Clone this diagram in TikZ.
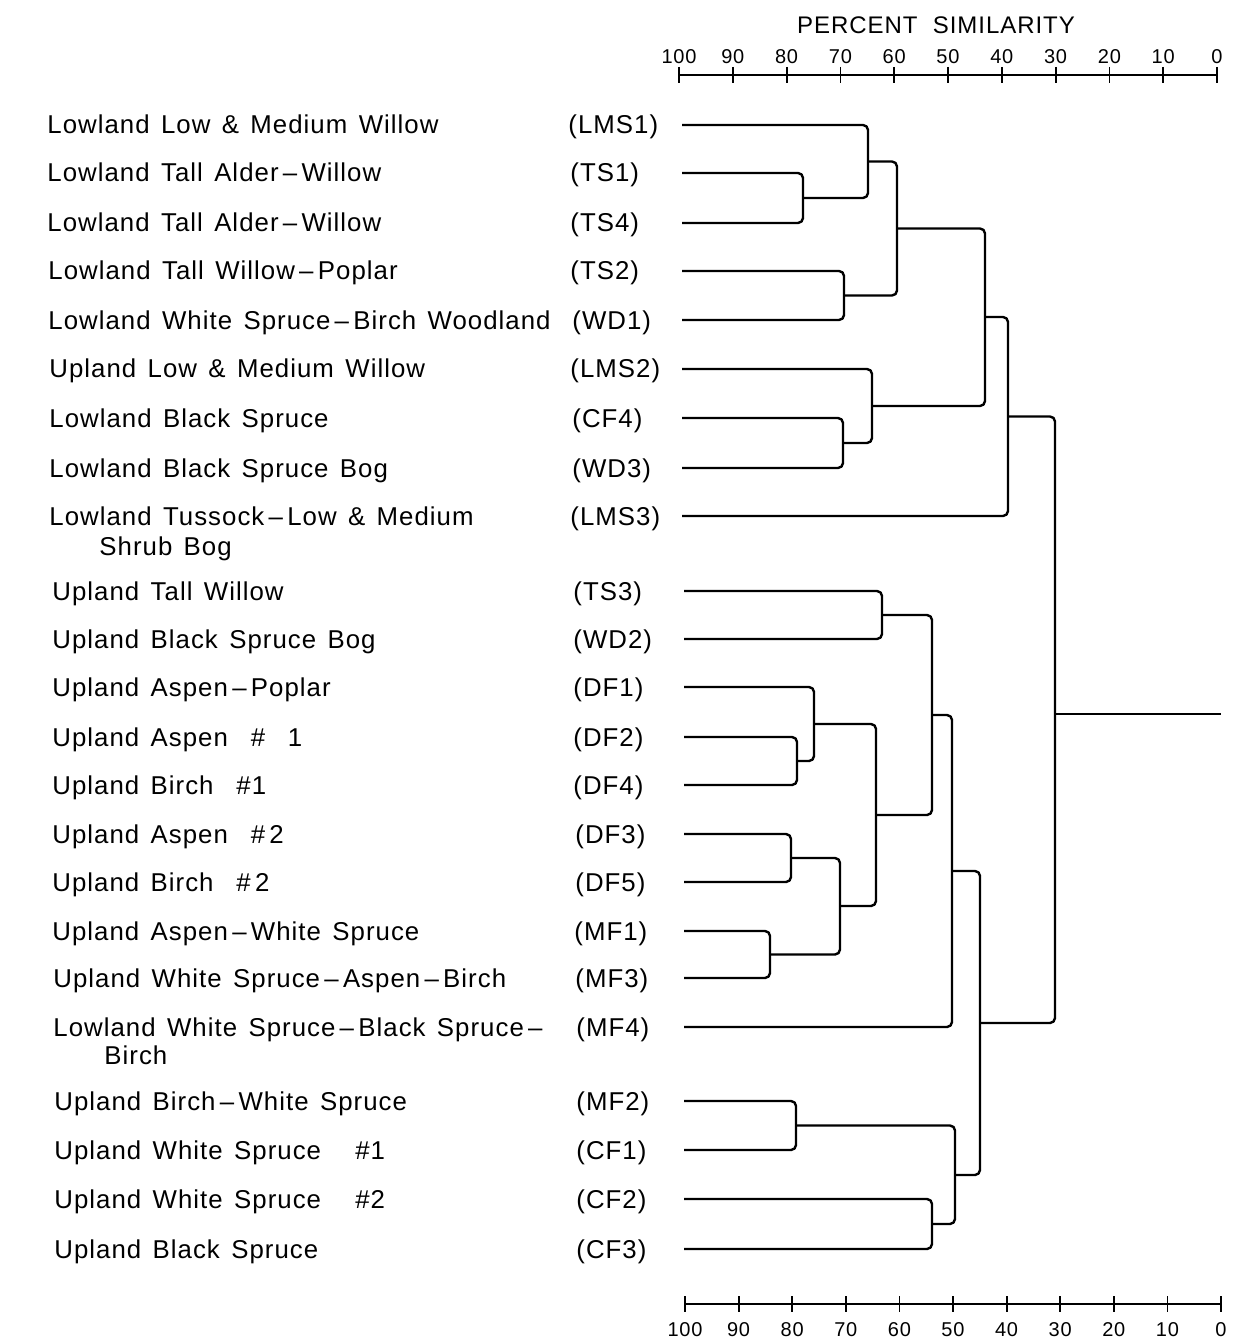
\documentclass[tikz,border=0pt]{standalone}
\usepackage{fontspec}
\setmainfont{Liberation Sans}
\newfontfamily\labfont[LetterSpace=4]{Liberation Sans}
\newfontfamily\numfont[LetterSpace=4]{Liberation Sans}
\newcommand{\labsetup}{\labfont\fontsize{12.9}{14}\selectfont\setlength{\spaceskip}{5.7pt plus 1pt minus 0.5pt}}
\begin{document}
\begin{tikzpicture}[x=0.5pt,y=-0.5pt,
  lab/.style={anchor=base west,inner sep=0pt,font=\labsetup},
  code/.style={anchor=base west,inner sep=0pt,font=\labfont\fontsize{12.9}{14}\selectfont},
  tnum/.style={inner sep=0pt,font=\numfont\fontsize{10}{11}\selectfont},
  titlefont/.style={inner sep=0pt,font=\labfont\fontsize{12}{13}\selectfont},
  branch/.style={line width=1.2pt,rounded corners=2.5pt,line join=round},
  scaleline/.style={line width=0.9pt}]
\useasboundingbox (0,0) rectangle (1233,1342);
% ---------- labels (name, code) ----------
\newcommand{\row}[5]{% id, y, namex, name, codex
  \node[lab] (n#1) at (#3,#2+9) {#4};
  \node[code] (c#1) at (#5,#2+9) {(#1)};}
\row{LMS1}{125}{47}{Lowland Low \& Medium Willow}{568}
\row{TS1}{173}{47}{Lowland Tall Alder\,–\,Willow}{570}
\row{TS4}{223}{47}{Lowland Tall Alder\,–\,Willow}{570}
\row{TS2}{271}{48}{Lowland Tall Willow\,–\,Poplar}{570}
\row{WD1}{320}{48}{Lowland White Spruce\,–\,Birch Woodland}{572}
\row{LMS2}{369}{49}{Upland Low \& Medium Willow}{570}
\row{CF4}{418}{49}{Lowland Black Spruce}{572}
\row{WD3}{468}{49}{Lowland Black Spruce Bog}{572}
\row{LMS3}{516}{49}{Lowland Tussock\,–\,Low \& Medium}{570}
\node[lab] (nLMS3b) at (99,555) {Shrub Bog};
\row{TS3}{591}{52}{Upland Tall Willow}{573}
\row{WD2}{639}{52}{Upland Black Spruce Bog}{573}
\row{DF1}{687}{52}{Upland Aspen\,–\,Poplar}{573}
\row{DF2}{737}{52}{Upland Aspen \ \# \ 1}{573}
\row{DF4}{785}{52}{Upland Birch \ \#1}{573}
\row{DF3}{834}{52}{Upland Aspen \ \#\,2}{575}
\row{DF5}{882}{52}{Upland Birch \ \#\,2}{575}
\row{MF1}{931}{52}{Upland Aspen\,–\,White Spruce}{574}
\row{MF3}{978}{53}{Upland White Spruce\,–\,Aspen\,–\,Birch}{575}
\row{MF4}{1027}{53}{Lowland White Spruce\,–\,Black Spruce\,–}{576}
\node[lab] (nMF4b) at (104,1064) {Birch};
\row{MF2}{1101}{54}{Upland Birch\,–\,White Spruce}{576}
\row{CF1}{1150}{54}{Upland White Spruce \ \ \#1}{576}
\row{CF2}{1199}{54}{Upland White Spruce \ \ \#2}{576}
\row{CF3}{1249}{54}{Upland Black Spruce}{576}
% ---------- leaf starts ----------
\foreach \id/\y in {LMS1/125,TS1/173,TS4/223,TS2/271,WD1/320,LMS2/369,CF4/418,WD3/468,LMS3/516}
  \coordinate (l\id) at (682,\y);
\foreach \id/\y in {TS3/591,WD2/639,DF1/687,DF2/737,DF4/785,DF3/834,DF5/882,MF1/931,MF3/978,MF4/1027,MF2/1101,CF1/1150,CF2/1199,CF3/1249}
  \coordinate (l\id) at (684,\y);
% ---------- merge points ----------
\coordinate (ma) at (803,198);
\coordinate (mb) at (868,161.5);
\coordinate (mc) at (844,295.5);
\coordinate (md) at (897,228.5);
\coordinate (me) at (843,443);
\coordinate (mf) at (872,406);
\coordinate (mg) at (985,317);
\coordinate (mh) at (1008,416.5);
\coordinate (mi) at (882,615);
\coordinate (mj) at (797,761);
\coordinate (mk) at (814,724);
\coordinate (ml) at (791,858);
\coordinate (mm) at (770,954.5);
\coordinate (mn) at (840,906);
\coordinate (mo) at (876,815);
\coordinate (mp) at (932,715);
\coordinate (mq) at (952,871);
\coordinate (mr) at (796,1125.5);
\coordinate (ms) at (932,1224);
\coordinate (mt) at (955,1175);
\coordinate (mu) at (980,1023);
\coordinate (mroot) at (1055,714);
\coordinate (rootend) at (1221,714);
% ---------- branches ----------
\foreach \a/\m/\b in {lTS1/ma/lTS4, lLMS1/mb/ma, lTS2/mc/lWD1, mb/md/mc,
  lCF4/me/lWD3, lLMS2/mf/me, md/mg/mf, mg/mh/lLMS3,
  lTS3/mi/lWD2, lDF2/mj/lDF4, lDF1/mk/mj, lDF3/ml/lDF5, lMF1/mm/lMF3,
  ml/mn/mm, mk/mo/mn, mi/mp/mo, mp/mq/lMF4, lMF2/mr/lCF1, lCF2/ms/lCF3,
  mr/mt/ms, mq/mu/mt, mh/mroot/mu}
  \draw[branch] (\a) -| (\m) |- (\b);
\draw[branch] (mroot) -- (rootend);
% ---------- top scale ----------
\node[titlefont] (title) at (936,25) {PERCENT \ SIMILARITY};
\coordinate (ts0) at (679,75);
\coordinate (ts1) at (1217,75);
\draw[scaleline] (ts0) -- (ts1);
\foreach \i in {0,...,10}{
  \pgfmathsetmacro{\xx}{679+53.8*\i}
  \pgfmathtruncatemacro{\vv}{100-10*\i}
  \draw[scaleline] (\xx,67) -- (\xx,83);
  \node[tnum] (tl\i) at (\xx,57) {\vv};
}
% ---------- bottom scale ----------
\coordinate (bs0) at (685,1304);
\coordinate (bs1) at (1221,1304);
\draw[scaleline] (bs0) -- (bs1);
\foreach \i in {0,...,10}{
  \pgfmathsetmacro{\xx}{685+53.6*\i}
  \pgfmathtruncatemacro{\vv}{100-10*\i}
  \draw[scaleline] (\xx,1296) -- (\xx,1312);
  \node[tnum] (bl\i) at (\xx,1330) {\vv};
}
\end{tikzpicture}
\end{document}
